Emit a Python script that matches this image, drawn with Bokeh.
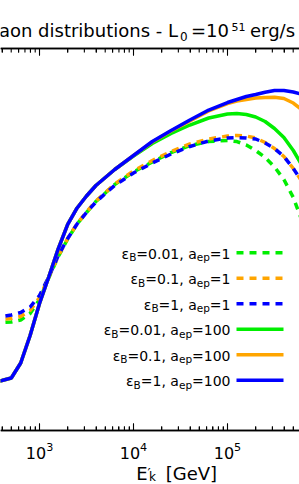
import math
from bokeh.plotting import figure
from bokeh.models import Range1d, LogAxis, LogTicker, Label, CustomJSTickFormatter
from bokeh.embed import file_html
from bokeh.resources import INLINE

# ---------------- data ----------------
# kinetic energy grid E'_k [GeV]
energy_gev = [316.2, 398.1, 501.2, 631.0, 794.3, 1000, 1259, 1585, 1995, 2512,
              3162, 3981, 5012, 6310, 10000, 15850, 25120, 39810, 63100, 100000,
              125900, 158500, 199500, 251200, 316200, 398100, 501200, 631000]

# distribution values (log10, arbitrary units)
eps001_aep1 = [2.801, 2.827, 2.840, 2.893, 3.063, 3.429, 4.005, 4.555, 5.013, 5.406,
               5.707, 5.995, 6.217, 6.440, 6.767, 7.029, 7.277, 7.461, 7.565, 7.592,
               7.565, 7.474, 7.330, 7.147, 6.898, 6.571, 6.099, 5.445]
eps01_aep1 = [2.880, 2.906, 2.932, 2.984, 3.141, 3.482, 4.018, 4.568, 5.026, 5.419,
              5.720, 6.008, 6.230, 6.453, 6.793, 7.068, 7.304, 7.500, 7.631, 7.709,
              7.723, 7.709, 7.657, 7.539, 7.382, 7.173, 6.859, 6.492]
eps1_aep1 = [2.958, 2.984, 3.024, 3.089, 3.233, 3.534, 4.031, 4.581, 5.026, 5.406,
             5.707, 5.982, 6.204, 6.414, 6.741, 7.003, 7.238, 7.435, 7.579, 7.657,
             7.670, 7.657, 7.631, 7.526, 7.382, 7.173, 6.859, 6.492]
eps001_aep100 = [1.257, 1.309, 1.374, 1.767, 2.487, 3.325, 4.031, 4.764, 5.393, 5.825,
                 6.139, 6.414, 6.623, 6.832, 7.186, 7.513, 7.775, 7.997, 8.181, 8.285,
                 8.298, 8.272, 8.207, 8.089, 7.906, 7.670, 7.330, 6.911]
eps01_aep100 = [1.257, 1.309, 1.374, 1.767, 2.487, 3.325, 4.031, 4.764, 5.393, 5.825,
                6.139, 6.414, 6.623, 6.832, 7.199, 7.552, 7.840, 8.102, 8.364, 8.560,
                8.626, 8.665, 8.704, 8.717, 8.723, 8.691, 8.573, 8.377]
eps1_aep100 = [1.257, 1.309, 1.374, 1.767, 2.487, 3.325, 4.031, 4.764, 5.393, 5.825,
               6.139, 6.414, 6.623, 6.832, 7.199, 7.565, 7.853, 8.128, 8.390, 8.586,
               8.665, 8.743, 8.796, 8.856, 8.901, 8.901, 8.861, 8.796]

legend_eps = ["0.01", "0.1", "1", "0.01", "0.1", "1"]
legend_aep = ["1", "1", "1", "100", "100", "100"]
series = [eps001_aep1, eps01_aep1, eps1_aep1, eps001_aep100, eps01_aep100, eps1_aep100]

major_tick_values = [1e3, 1e4, 1e5]
title_parts = ["aon distributions - L", "0", "=10", "51", "erg/s"]
xlabel_parts = ["E", "\u2032", "k", "[GeV]"]

# ---------------- styles / geometry ----------------
GREEN, ORANGE, BLUE = "#00ee00", "#ffa500", "#0000ff"
colors = [GREEN, ORANGE, BLUE, GREEN, ORANGE, BLUE]
dashes = ["7 6", "7 6", "7 6", "solid", "solid", "solid"]
FONT = "DejaVu Sans"
MID = 0.35                     # baseline -> visual middle, in em

W_PAGE, H_PAGE = 299, 484
AX_TOP, AX_BOT = 48, 430       # page rows of the top / bottom axis lines
V_BOT, V_TOP = 0.0, 10.0       # value range between the two axis lines
PPU = (AX_BOT - AX_TOP) / (V_TOP - V_BOT)
XLO, XHI = 10 ** 2.585, 10 ** 5.766
YLO = V_BOT - (H_PAGE - AX_BOT) / PPU
YHI = V_BOT + AX_BOT / PPU

p = figure(width=W_PAGE, height=H_PAGE, x_axis_type="log", y_axis_location=None,
           x_range=Range1d(XLO, XHI), y_range=Range1d(YLO, YHI),
           output_backend="svg", toolbar_location=None, title=None, min_border=0)
p.outline_line_color = None
p.xgrid.visible = False
p.ygrid.visible = False
p.background_fill_color = "white"
p.border_fill_color = "white"

bottom = p.xaxis[0]
bottom.fixed_location = V_BOT
top = LogAxis(ticker=LogTicker(), formatter=CustomJSTickFormatter(code="return ''"),
              fixed_location=V_TOP)
p.add_layout(top, "above")

for ax in (bottom, top):
    ax.axis_line_width = 1.5
    ax.axis_line_color = "#000000"
    ax.major_tick_in = 7
    ax.major_tick_out = 0
    ax.minor_tick_in = 4
    ax.minor_tick_out = 0
    ax.major_tick_line_width = 1
    ax.minor_tick_line_width = 1
    ax.major_tick_line_color = "#000000"
    ax.minor_tick_line_color = "#000000"
    ax.major_label_text_font = FONT
    ax.major_label_text_color = "black"
    ax.major_label_text_font_size = "16px"
    ax.major_label_standoff = 11
top.major_label_text_font_size = "1px"
top.major_label_standoff = 0

# axis rules and inward ticks as filled bars at the two axis rows
minor_tick_values = [m * 10 ** d for d in range(2, 6) for m in range(2, 10)
                     if XLO <= m * 10 ** d <= XHI]
x_mid = math.sqrt(XLO * XHI)
for v_line, sign in ((V_BOT, 1), (V_TOP, -1)):
    p.rect(x=[x_mid], y=[v_line], width=W_PAGE, height=1.6,
           width_units="screen", height_units="screen",
           fill_color="#000000", line_color=None)
    p.rect(x=major_tick_values, y=[v_line + sign * 3.5 / PPU] * 3, width=1.1, height=7,
           width_units="screen", height_units="screen",
           fill_color="#000000", line_color=None)
    n = len(minor_tick_values)
    p.rect(x=minor_tick_values, y=[v_line + sign * 2.0 / PPU] * n, width=1.1, height=4,
           width_units="screen", height_units="screen",
           fill_color="#000000", line_color=None)

for vals, c, d in zip(series, colors, dashes):
    p.line(energy_gev, vals, line_color=c, line_width=3.5, line_dash=d)


def px_to_x(px):
    a, b = math.log10(XLO), math.log10(XHI)
    return 10 ** (a + px / W_PAGE * (b - a))


def py_to_y(py):
    return V_BOT + (AX_BOT - py) / PPU


def lab(text, px, py_base, size, align="left"):
    # py_base: page row of the text baseline
    p.add_layout(Label(x=px, y=H_PAGE - py_base + MID * size, x_units="screen", y_units="screen",
                       text=text, text_font=FONT, text_font_size=f"{size}px",
                       text_color="black", text_align=align, text_baseline="middle"))


# ---------------- title ----------------
lab(title_parts[0], 177.5, 36.3, 18, "right")
lab(title_parts[1], 179.5, 40.0, 12)
lab(title_parts[2], 190.5, 36.3, 18)
lab(title_parts[3], 231.0, 30.7, 11)
lab(title_parts[4], 249.5, 36.3, 18)

# ---------------- x axis label ----------------
lab(xlabel_parts[0], 135.7, 479.5, 18)
lab(xlabel_parts[1], 147.0, 477.0, 14)
lab(xlabel_parts[2], 148.5, 481.0, 12)
lab(xlabel_parts[3], 165.2, 479.5, 18)

# ---------------- legend ----------------
WID = {'=': 0.838, '0': 0.636, '1': 0.636, '.': 0.318, ',': 0.318, ' ': 0.318,
       'a': 0.613, 'e': 0.615, 'p': 0.635, 'B': 0.686, '\u03b5': 0.553}


def tw(s, size):
    return sum(WID.get(ch, 0.6) for ch in s) * size


MAIN, SUB = 14, 10.5
for i in range(6):
    ly = 252.3 + 25.5 * i
    p.line([px_to_x(236), px_to_x(283)], [py_to_y(ly), py_to_y(ly)],
           line_color=colors[i], line_width=3.5, line_dash=dashes[i])
    base, subbase = ly + 5.7, ly + 8.0
    pieces = [("\u03b5", MAIN, base), ("B", SUB, subbase),
              ("=" + legend_eps[i] + ", a", MAIN, base), ("ep", SUB, subbase),
              ("=" + legend_aep[i], MAIN, base)]
    xr = 230.0
    for text, size, b in reversed(pieces):
        lab(text, xr, b, size, "right")
        xr -= tw(text, size)

open("out.html", "w").write(file_html(p, INLINE))
